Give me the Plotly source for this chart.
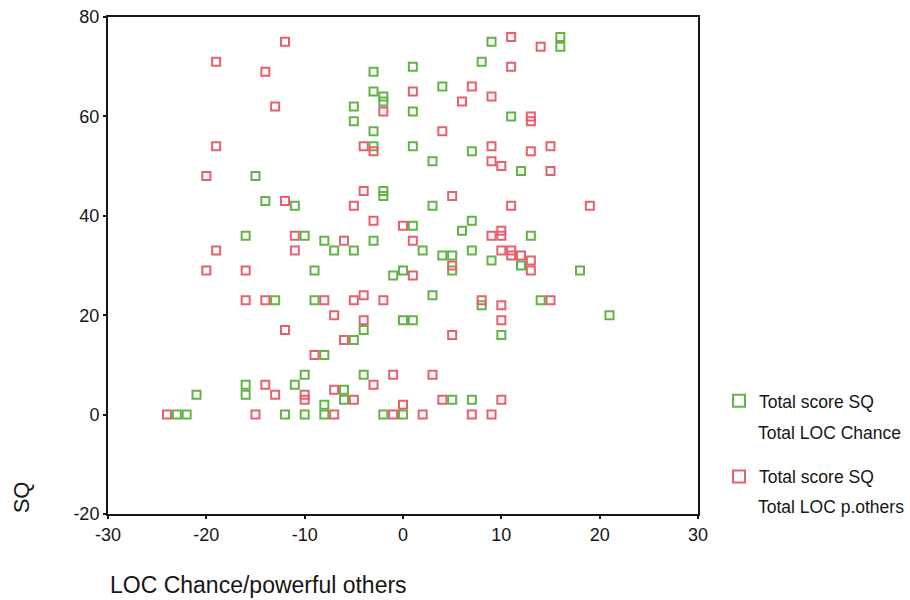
import plotly.graph_objects as go

# Total LOC Chance vs Total score SQ (green)
chance_x = [9, 16, 16, 8, 1, 4, 1, 11, 1, 7, 3, 12, 3, 7,
            -3, -3, -2, -2, -5, -5, -3, -3, -15, -14, -11, -2, -2,
            -16, -10, -8, -3, -7, -5, -9, -1, 0, -13, -9, 0, -4, -5, -8, -10, -4,
            -16, -11, -21, -16, -6, -6, -8, -23, -22, -12, -10, -8, -2, 0,
            1, 6, 13, 2, 4, 5, 7, 9, 5, 12, 18, 3, 8, 14, 21, 1, 10, 5, 7]
chance_y = [75, 76, 74, 71, 70, 66, 61, 60, 54, 53, 51, 49, 42, 39,
            69, 65, 64, 63, 62, 59, 57, 54, 48, 43, 42, 45, 44,
            36, 36, 35, 35, 33, 33, 29, 28, 29, 23, 23, 19, 17, 15, 12, 8, 8,
            6, 6, 4, 4, 5, 3, 2, 0, 0, 0, 0, 0, 0, 0,
            38, 37, 36, 33, 32, 32, 33, 31, 29, 30, 29, 24, 22, 23, 20, 19, 16, 3, 3]

# Total LOC powerful others vs Total score SQ (red)
others_x = [11, 14, 11, 1, 7, 6, 9, 13, 13, 4, 9, 13, 15, 9, 10, 15, 5, 11, 19,
            -12, -19, -14, -13, -19, -20, -12, -4, -3, -2, -4, -5, -3,
            0, -11, -6, -19, -11, -20, -16, -16, -14, -8, -5, -4, -2, -7, -4, -12, -6, -9, -1,
            -14, -3, -13, -10, -10, -7, -5, -24, -15, -7, -1, 0,
            1, 9, 10, 10, 10, 11, 11, 12, 13, 13, 5, 1, 8, 10, 15, 10, 5, 3, 4, 10, 2, 7, 9]
others_y = [76, 74, 70, 65, 66, 63, 64, 60, 59, 57, 54, 53, 54, 51, 50, 49, 44, 42, 42,
            75, 71, 69, 62, 54, 48, 43, 54, 53, 61, 45, 42, 39,
            38, 36, 35, 33, 33, 29, 29, 23, 23, 23, 23, 24, 23, 20, 19, 17, 15, 12, 8,
            6, 6, 4, 4, 3, 5, 3, 0, 0, 0, 0, 2,
            35, 36, 36, 37, 33, 33, 32, 32, 31, 29, 30, 28, 23, 22, 23, 19, 16, 8, 3, 3, 0, 0, 0]

x_ticks = [-30, -20, -10, 0, 10, 20, 30]
x_labels = ["-30", "-20", "-10", "0", "10", "20", "30"]
y_ticks = [-20, 0, 20, 40, 60, 80]
y_labels = ["-20", "0", "20", "40", "60", "80"]

legend_line1 = "Total score SQ"
legend_line2 = ["Total LOC Chance", "Total LOC p.others"]

GREEN = "#62b446"
RED = "#e8606c"
FONT = "Liberation Sans, Arial, sans-serif"
INK = "#161616"

fig = go.Figure()
fig.add_trace(go.Scatter(
    x=chance_x, y=chance_y, mode="markers", name=legend_line1, legendgroup="g1",
    marker=dict(symbol="square-open", size=8, color=GREEN, line=dict(width=2, color=GREEN)),
))
fig.add_trace(go.Scatter(
    x=others_x, y=others_y, mode="markers", name=legend_line1, legendgroup="g2",
    marker=dict(symbol="square-open", size=8, color=RED, line=dict(width=2, color=RED)),
))

axis_common = dict(showgrid=False, zeroline=False, automargin=False,
                   showline=True, linecolor=INK, linewidth=2, mirror=True,
                   ticks="outside", ticklen=3, tickwidth=2, tickcolor=INK,
                   ticklabeloverflow="allow",
                   tickfont=dict(size=18, color=INK))

fig.update_layout(
    template="none",
    width=910, height=600,
    margin=dict(l=108, r=212, t=17, b=86),
    paper_bgcolor="white", plot_bgcolor="white",
    font=dict(family=FONT, size=17, color=INK),
    showlegend=True,
    legend=dict(x=1.0356, y=0.2636, xanchor="left", yanchor="top",
                font=dict(size=17.5, color=INK), tracegroupgap=50,
                traceorder="grouped", itemsizing="constant", bgcolor="rgba(0,0,0,0)"),
    xaxis=dict(range=[-30, 30], tickvals=x_ticks, ticktext=x_labels, **axis_common),
    yaxis=dict(range=[-20, 80], tickvals=y_ticks, ticktext=y_labels, **axis_common),
    annotations=[
        dict(text="LOC Chance/powerful others", xref="paper", yref="paper",
             x=0.0, y=-0.173, xanchor="left", yanchor="bottom", showarrow=False,
             font=dict(size=23, color=INK)),
        dict(text="SQ", xref="paper", yref="paper", x=-0.147, y=0.034,
             xanchor="center", yanchor="middle", textangle=-90, showarrow=False,
             font=dict(size=22, color=INK)),
        dict(text=legend_line2[0], xref="paper", yref="paper", x=1.0983, y=0.163,
             xanchor="left", yanchor="middle", showarrow=False, font=dict(size=17.5, color=INK)),
        dict(text=legend_line2[1], xref="paper", yref="paper", x=1.0983, y=0.014,
             xanchor="left", yanchor="middle", showarrow=False, font=dict(size=17.5, color=INK)),
    ],
)

# remove the default 8px page margin so the 910x600 figure fills the window exactly
fig.write_html("out.html", config={"displayModeBar": False},
               post_script="document.body.style.margin='0';")
